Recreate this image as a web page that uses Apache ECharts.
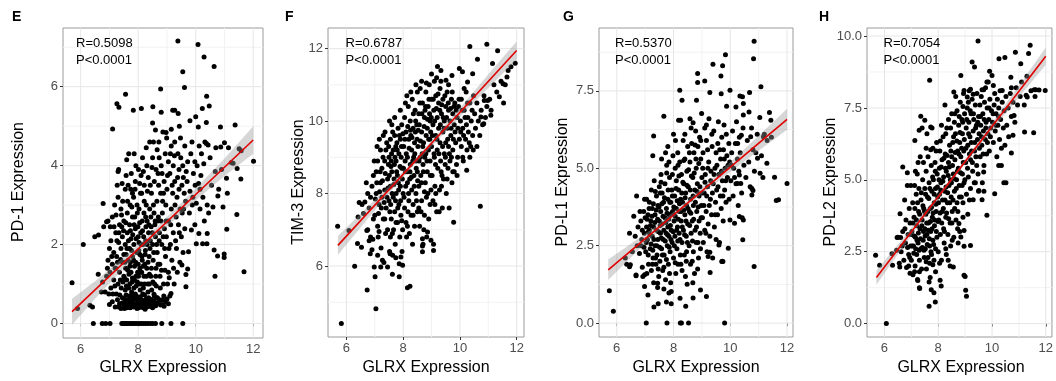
<!DOCTYPE html>
<html><head><meta charset="utf-8">
<script src="https://cdn.jsdelivr.net/npm/echarts@6/dist/echarts.min.js"></script>
<style>html,body{margin:0;padding:0;background:#fff}#c{width:1056px;height:381px}</style>
</head><body><div id="c"></div>
<script>
// ---------- DATA ----------
const xTitle = 'GLRX Expression';
const xTicks = [6, 8, 10, 12];
const xMinor = [7, 9, 11];

const yTicksE = [0, 2, 4, 6];       const yMinorE = [1, 3, 5, 7];
const yTicksF = [6, 8, 10, 12];     const yMinorF = [5, 7, 9, 11];
const yTicksG = [0, 2.5, 5, 7.5];   const yMinorG = [1.25, 3.75, 6.25, 8.75];
const yTicksH = [0, 2.5, 5, 7.5, 10]; const yMinorH = [1.25, 3.75, 6.25, 8.75];

const statsE = ['R=0.5098', 'P<0.0001'];
const statsF = ['R=0.6787', 'P<0.0001'];
const statsG = ['R=0.5370', 'P<0.0001'];
const statsH = ['R=0.7054', 'P<0.0001'];

// regression line end points and confidence band rows [x, lower, upper]
const lineE = [[5.7, 0.30], [12.0, 4.65]];
const bandE = [[5.7,-0.03,0.63],[6.5,0.63,1.07],[7.3,1.25,1.56],[8.2,1.92,2.12],[9.0,2.46,2.70],[10.0,3.12,3.42],[11.0,3.74,4.18],[12.0,4.30,5.00]];
const lineF = [[5.7, 6.57], [12.0, 11.95]];
const bandF = [[5.7,6.31,6.83],[6.5,7.06,7.44],[7.3,7.82,8.06],[8.3,8.72,8.86],[9.3,9.55,9.73],[10.3,10.36,10.64],[11.2,11.07,11.47],[12.0,11.70,12.20]];
const lineG = [[5.7, 1.72], [12.0, 6.58]];
const bandG = [[5.7,1.39,2.05],[6.5,2.12,2.56],[7.3,2.82,3.08],[8.3,3.65,3.81],[9.3,4.39,4.61],[10.3,5.09,5.45],[11.2,5.70,6.22],[12.0,6.24,6.92]];
const lineH = [[5.7, 1.60], [12.0, 9.30]];
const bandH = [[5.7,1.35,1.85],[6.5,2.41,2.75],[7.3,3.45,3.67],[8.3,4.71,4.85],[9.3,5.91,6.09],[10.3,7.07,7.37],[11.2,8.10,8.54],[12.0,9.00,9.60]];

// scatter points [GLRX, gene]
const ptsE = [
[5.70,1.03],[5.89,0.38],[6.09,2.00],[6.32,0.46],[6.41,0.42],[6.49,2.20],[6.62,2.24],[6.61,1.25],[6.78,3.04],[6.72,0.80],[6.90,2.58],[6.80,2.45],[6.76,1.05],[7.11,4.93],
[9.38,7.16],[10.08,7.07],[10.29,6.75],[10.64,6.51],[9.55,6.38],[9.61,5.98],[8.78,5.94],[7.56,5.81],[7.26,5.57],[7.33,5.48],[7.83,5.40],[8.11,5.45],[8.51,5.49],[10.38,5.76],[10.47,5.51],[10.23,5.45],[9.20,5.40],[9.27,5.40],[9.39,5.32],[8.80,5.35],[10.00,5.24],[9.80,5.14],[8.50,5.08],[10.09,4.98],[10.37,5.09],[10.86,4.98],[11.37,5.03],[9.43,5.00],[9.15,4.92],[8.97,4.84],
[11.00,4.58],[10.37,4.56],[10.43,4.52],[10.87,4.47],[11.14,4.45],[11.51,4.43],[11.58,4.38],[12.01,4.11],[11.24,4.08],[11.30,4.06],[11.44,3.93],[11.57,3.66],[11.07,3.68],[11.10,3.30],[10.77,3.23],[11.43,2.76],[11.08,2.39],[10.99,1.76],[10.99,1.67],[10.76,1.71],[10.64,1.86],[10.67,1.20],[11.68,1.31],[10.39,2.02],[10.24,2.02],[10.02,2.02],[10.11,2.28],[10.40,2.28],[9.85,2.37],[9.75,1.82],[9.66,1.24],[9.72,1.38],[9.66,0.93],[9.52,1.48],[9.14,0.76],[9.08,1.16],
[9.65,3.10],[9.70,3.60],[9.72,4.10],[9.78,2.80],[9.80,3.35],[9.83,4.30],[9.88,3.00],[9.92,3.80],[9.97,2.50],[9.98,3.50],[10.05,4.00],[10.10,3.55],[10.15,2.90],[10.20,4.30],[10.25,3.20],[10.30,2.60],[10.32,4.60],[10.40,3.00],[10.45,2.80],[10.55,3.50],[10.60,2.95],[10.68,3.85],[10.80,3.40],[10.90,3.90],[10.95,2.95],[10.50,4.20],[10.15,3.40],[9.90,3.20],[10.70,4.45],
[9.05,1.30],[9.05,2.60],[9.05,4.10],[9.10,3.80],[9.12,2.00],[9.15,4.50],[9.15,2.90],[9.17,1.60],[9.20,3.30],[9.22,2.30],[9.22,4.00],[9.25,1.00],[9.27,3.60],[9.27,4.60],[9.30,2.10],[9.32,2.70],[9.35,3.20],[9.36,1.30],[9.38,4.30],[9.40,2.50],[9.42,3.90],[9.45,1.55],[9.46,2.90],[9.47,4.70],[9.50,2.20],[9.52,3.50],[9.55,4.00],[9.56,1.80],[9.58,2.90],[9.60,3.30],[9.62,4.50],[9.62,2.40],
[8.72,4.60],[8.74,2.30],[8.75,1.50],[8.78,3.30],[8.80,4.00],[8.82,2.00],[8.84,2.80],[8.86,4.85],[8.88,1.00],[8.90,3.60],[8.91,2.40],[8.94,4.30],[8.95,1.70],[8.96,3.00],[8.98,2.20],[8.99,4.70],[9.00,3.40],[8.76,1.20],[8.85,3.10],[8.93,1.35],[8.70,2.70],
[8.44,1.20],[8.45,2.45],[8.46,3.30],[8.47,0.85],[8.50,4.20],[8.50,2.00],[8.52,1.60],[8.55,2.80],[8.56,3.60],[8.57,1.00],[8.60,4.90],[8.60,2.20],[8.62,1.40],[8.65,3.10],[8.66,4.40],[8.66,1.80],[8.68,2.60],[8.69,3.80],[8.42,2.10],[8.48,3.95],[8.58,2.50],[8.63,0.95],
[8.14,1.60],[8.15,2.35],[8.15,4.20],[8.18,0.90],[8.20,2.80],[8.20,1.20],[8.21,3.50],[8.25,1.85],[8.26,2.10],[8.28,3.00],[8.30,1.40],[8.30,4.00],[8.31,2.60],[8.33,1.00],[8.35,3.70],[8.36,2.30],[8.38,1.70],[8.40,2.90],[8.40,4.60],[8.12,3.30],[8.12,1.30],[8.17,2.00],[8.23,1.50],[8.27,2.45],[8.34,0.80],[8.39,1.25],
[7.85,2.00],[7.85,0.90],[7.86,4.30],[7.87,1.45],[7.90,2.40],[7.90,3.60],[7.92,1.20],[7.95,1.80],[7.96,3.00],[7.97,2.80],[8.00,1.50],[8.00,2.20],[8.01,3.90],[8.04,1.00],[8.05,2.55],[8.06,1.75],[8.08,3.30],[8.09,1.30],[8.10,2.00],[8.10,3.75],[7.82,1.10],[7.88,2.70],[7.93,0.95],[7.98,1.30],[8.03,2.05],[8.07,0.85],[7.84,3.20],
[7.55,0.85],[7.55,2.00],[7.55,3.40],[7.56,1.40],[7.60,4.15],[7.60,1.10],[7.62,2.30],[7.62,2.80],[7.65,1.60],[7.65,3.50],[7.67,0.90],[7.70,1.90],[7.70,2.50],[7.71,1.00],[7.72,3.00],[7.75,1.30],[7.75,2.15],[7.76,3.80],[7.77,0.80],[7.80,1.70],[7.80,2.70],[7.80,1.15],[7.80,3.30],[7.58,1.75],[7.68,1.25],[7.73,1.55],[7.52,1.15],
[7.24,0.75],[7.25,1.70],[7.26,2.10],[7.30,3.20],[7.30,3.85],[7.32,3.90],[7.30,1.00],[7.35,2.50],[7.35,1.30],[7.40,2.90],[7.40,1.90],[7.41,0.90],[7.45,1.55],[7.45,2.20],[7.46,3.10],[7.50,1.20],[7.50,2.60],[7.50,1.75],[7.22,2.30],[7.22,1.40],[7.38,1.10],[7.43,2.45],
[6.85,0.80],[6.90,1.20],[6.95,1.60],[6.95,2.60],[7.00,1.90],[7.05,0.90],[7.05,2.10],[7.10,1.50],[7.10,2.70],[7.15,1.10],[7.15,1.80],[7.18,3.00],[7.20,1.40],[7.02,1.30],[6.98,0.75],
[7.00,0.48],[7.10,0.55],[7.20,0.42],[7.28,0.60],[7.35,0.50],[7.40,0.38],[7.45,0.65],[7.50,0.47],[7.55,0.55],[7.60,0.40],[7.65,0.60],[7.70,0.50],[7.75,0.42],[7.78,0.70],[7.82,0.52],[7.88,0.45],[7.92,0.62],[7.96,0.38],[8.00,0.55],[8.04,0.47],[8.08,0.68],[8.12,0.42],[8.16,0.58],[8.20,0.50],[8.24,0.36],[8.28,0.62],[8.33,0.48],[8.38,0.55],[8.42,0.43],[8.47,0.60],[8.52,0.50],[8.58,0.45],[8.63,0.65],[8.70,0.52],[8.78,0.47],[8.85,0.60],[8.95,0.55],[9.05,0.50],[9.10,0.70],[7.58,0.72],[7.90,0.75],[8.22,0.72],[8.55,0.74],
[6.44,0],[6.75,0],[6.87,0],[7.02,0],[7.43,0],[7.48,0],[7.53,0],[7.58,0],[7.63,0],[7.70,0],[7.76,0],[7.82,0],[7.88,0],[7.95,0],[8.03,0],[8.10,0],[8.17,0],[8.25,0],[8.33,0],[8.42,0],[8.50,0],[8.60,0],[8.82,0],[9.14,0],[9.55,0],
[7.28,1.55],[7.32,2.05],[7.36,0.72],[7.39,1.62],[7.42,2.75],[7.47,1.05],[7.49,2.35],[7.53,0.62],[7.54,1.55],[7.57,2.55],[7.59,0.95],[7.61,1.90],[7.63,3.10],[7.64,1.35],[7.66,2.10],[7.69,0.70],[7.71,1.45],[7.73,2.35],[7.74,0.55],[7.77,1.85],[7.78,2.95],[7.79,1.05],[7.81,2.25],[7.83,0.65],[7.84,1.60],[7.86,2.50],[7.87,1.10],[7.89,3.40],[7.91,1.55],[7.93,2.15],[7.94,0.70],[7.97,1.05],[7.99,2.45],[8.01,1.20],[8.02,1.85],[8.03,2.90],[8.05,0.62],[8.06,1.40],[8.09,2.30],[8.11,1.00],[8.13,1.70],[8.14,2.60],[8.16,0.75],[8.17,1.45],[8.19,2.20],[8.21,3.10],[8.22,1.00],[8.24,1.75],[8.26,2.70],[8.27,0.60],[8.29,1.20],[8.31,2.00],[8.32,3.35],[8.34,1.55],[8.36,0.65],[8.37,2.50],[8.39,1.00],[8.41,1.90],[8.43,0.60],[8.44,2.70],[8.46,1.40],[8.49,2.30],[8.51,1.05],[8.53,3.00],[8.54,1.80],[8.56,0.70],[8.59,2.60],[8.61,1.20],[8.64,2.00],[8.67,0.65],[8.69,1.50],[8.71,3.50],[8.73,2.10],[8.77,0.90],[8.79,2.60],[8.81,1.35],[8.83,3.80],[8.87,2.20],[8.89,0.70],[8.92,1.90],[8.97,2.60],[9.02,1.00],[9.07,1.90],[9.13,2.50],[9.18,3.50],[9.23,1.40],[9.28,3.00],[9.33,1.90],[9.37,3.70],[9.43,2.30],[9.48,4.20],[9.53,2.80],[7.12,0.75],[7.08,1.70],[7.16,2.45],[7.19,0.95],[7.03,2.45],[6.93,1.40],[7.23,2.75],[7.27,3.50],[7.33,2.30],[7.44,3.55],[7.58,3.75],[7.67,4.30],[7.74,3.40],[7.92,4.00],[8.05,3.55],[8.18,3.85],[8.28,4.45],[8.42,3.50],[8.53,4.60],[8.62,3.90],[8.73,4.20],[8.88,3.30],[9.02,3.75],[9.12,4.30],[9.26,4.25],[9.42,3.40],[9.57,3.70],[9.67,3.85],[9.87,4.60],[10.02,3.05],[10.18,3.75],[10.28,4.05],[10.12,4.50],[9.97,4.10],
[7.32,0.42],[7.44,0.52],[7.52,0.38],[7.57,0.48],[7.64,0.44],[7.68,0.58],[7.72,0.40],[7.80,0.60],[7.85,0.42],[7.90,0.50],[7.98,0.46],[8.02,0.40],[8.06,0.52],[8.10,0.58],[8.14,0.48],[8.18,0.40],[8.26,0.48],[8.30,0.42],[8.36,0.50],[8.40,0.62],[8.45,0.48],[8.50,0.40],[8.56,0.56],[8.61,0.45],[8.66,0.52],[8.74,0.60],[8.82,0.48],[8.90,0.44],[9.00,0.62]
];

const ptsF = [
[5.69,7.10],[5.82,4.41],[7.04,4.82],[6.73,5.34],[6.29,5.99],[8.15,5.40],[8.24,5.44],[7.86,5.70],[6.09,6.98],[6.41,7.35],[6.39,6.62],[6.53,6.52],[6.65,7.77],[6.72,6.98],[6.98,5.97],[7.01,5.70],[6.84,6.34],[6.93,6.74],[7.21,5.97],[7.27,6.16],[7.45,5.97],[7.62,5.77],[7.54,6.34],[7.74,6.23],[7.86,6.06],[7.92,6.25],[7.98,6.02],[9.78,7.21],[10.72,7.65],[10.24,8.64],[8.98,6.71],[9.07,6.43],[8.68,6.39],[8.68,6.55],[8.68,6.75],[8.86,6.94],
[10.35,12.06],[10.95,12.12],[11.33,11.94],[11.95,11.60],[10.62,11.71],[11.15,11.59],[11.66,11.22],[11.52,11.03],[11.54,10.50],[11.39,10.67],[11.09,10.16],[10.86,10.57],[10.98,10.57],[10.74,10.11],[10.84,9.93],[9.21,11.51],[9.33,11.40],[9.51,11.13],[9.72,11.26],[9.98,11.45],[10.09,11.36],[10.27,11.08],[10.45,11.31],[10.15,10.90],
[6.45,7.75],[6.55,7.70],[6.60,7.45],[6.70,8.30],[6.75,8.00],[6.80,7.60],[6.85,7.90],[6.90,8.20],[6.95,8.50],[6.95,7.30],[6.75,7.00],[6.85,6.80],[6.90,6.45],[6.80,6.70],
[7.00,7.40],[7.05,8.60],[7.05,8.00],[7.10,7.10],[7.10,8.90],[7.12,6.80],[7.15,7.70],[7.20,8.30],[7.20,9.20],[7.22,6.50],[7.25,7.90],[7.25,8.70],[7.30,9.60],[7.30,7.30],[7.32,6.10],[7.35,8.10],[7.35,8.90],[7.38,6.90],[7.40,7.60],[7.42,9.40],[7.45,8.40],[7.45,7.00],[7.48,8.80],[7.50,7.80],[7.50,9.00],[7.10,6.30],
[7.52,6.40],[7.55,8.20],[7.55,9.50],[7.58,7.30],[7.60,8.60],[7.60,9.90],[7.62,6.90],[7.65,7.90],[7.65,9.20],[7.68,8.40],[7.70,7.50],[7.70,9.60],[7.72,6.60],[7.75,8.00],[7.75,8.90],[7.78,9.40],[7.80,7.20],[7.80,8.50],[7.82,9.80],[7.85,7.70],[7.85,9.10],[7.88,6.80],[7.90,8.20],[7.90,9.50],[7.92,7.40],[7.95,8.70],[7.95,9.90],[7.98,7.00],[7.58,8.90],[7.66,7.00],[7.74,9.30],[7.84,8.10],[7.93,9.00],[7.56,7.70],[7.96,6.40],[7.63,6.30],
[8.00,8.00],[8.02,9.30],[8.05,7.60],[8.05,10.10],[8.08,8.60],[8.10,7.20],[8.10,9.70],[8.12,6.80],[8.15,8.30],[8.15,9.00],[8.18,10.40],[8.20,7.80],[8.20,9.50],[8.22,6.90],[8.25,8.80],[8.25,10.00],[8.28,7.40],[8.30,9.20],[8.30,8.10],[8.32,10.60],[8.35,7.70],[8.35,9.80],[8.38,8.50],[8.40,9.40],[8.40,7.10],[8.42,10.30],[8.45,8.00],[8.45,8.90],[8.48,9.90],[8.50,7.50],[8.50,10.80],[8.50,8.60],[8.07,8.90],[8.17,7.50],[8.27,9.60],[8.37,9.00],[8.47,7.80],[8.13,10.70],[8.23,8.40],[8.33,6.60],[8.43,9.70],
[8.52,9.30],[8.55,8.20],[8.55,10.20],[8.58,7.10],[8.60,9.00],[8.60,10.90],[8.62,8.50],[8.65,9.70],[8.65,7.80],[8.68,10.50],[8.70,8.80],[8.70,6.60],[8.72,9.40],[8.75,10.10],[8.75,7.40],[8.78,8.30],[8.80,10.80],[8.80,9.10],[8.82,7.90],[8.85,9.80],[8.85,8.60],[8.88,10.40],[8.90,7.30],[8.90,9.50],[8.92,11.00],[8.95,8.90],[8.95,10.00],[8.98,8.10],[9.00,9.30],[9.00,10.60],[8.57,9.90],[8.67,9.10],[8.77,10.30],[8.87,8.00],[8.97,9.70],[8.63,7.50],[8.73,7.00],[8.83,6.80],[8.93,10.20],
[9.02,8.50],[9.05,9.90],[9.05,7.80],[9.08,10.30],[9.10,9.00],[9.10,11.10],[9.12,8.20],[9.15,9.60],[9.15,10.70],[9.18,7.50],[9.20,9.20],[9.20,10.10],[9.22,8.70],[9.25,10.50],[9.25,9.80],[9.28,8.10],[9.30,9.40],[9.30,10.90],[9.32,8.90],[9.35,10.20],[9.38,7.60],[9.40,9.70],[9.40,10.60],[9.42,8.40],[9.45,9.10],[9.45,10.00],[9.48,8.80],[9.50,10.40],[9.50,9.40],[9.12,7.70],[9.27,7.50],[9.37,8.50],[9.33,11.10],[9.07,6.60],
[9.52,8.00],[9.55,9.80],[9.55,10.80],[9.58,8.70],[9.60,9.30],[9.60,10.30],[9.62,7.60],[9.65,10.00],[9.65,8.90],[9.68,9.60],[9.70,10.60],[9.72,8.30],[9.75,9.20],[9.75,10.20],[9.80,9.90],[9.80,8.60],[9.82,10.50],[9.85,9.40],[9.88,8.80],[9.90,10.10],[9.92,9.00],[9.95,10.40],[9.98,9.50],[9.60,11.00],[9.70,9.00],[9.90,8.50],
[10.02,10.00],[10.05,9.30],[10.05,10.60],[10.10,9.80],[10.12,8.90],[10.15,10.30],[10.20,9.50],[10.22,10.80],[10.25,9.20],[10.28,10.10],[10.30,9.70],[10.35,10.50],[10.38,9.30],[10.40,10.00],[10.45,9.60],[10.48,10.70],[10.10,9.00],[10.35,9.00],
[10.52,10.20],[10.55,9.80],[10.60,10.50],[10.65,10.00],[10.70,9.60],[10.75,10.30],[10.80,9.90],[10.85,10.70],[10.90,10.10],[10.95,10.40],[10.60,9.30],
[11.05,10.60],[11.10,10.30],[11.20,11.00],[11.30,10.80],[11.45,11.10],[11.60,11.00],[11.70,11.40],[11.80,11.50],
[7.02,7.85],[7.07,8.30],[7.13,7.45],[7.17,8.05],[7.19,8.60],[7.23,7.60],[7.27,8.35],[7.29,9.00],[7.33,7.75],[7.37,8.55],[7.39,9.20],[7.43,7.90],[7.47,8.15],[7.49,9.30],[7.51,8.50],[7.53,7.50],[7.57,8.75],[7.59,9.10],[7.61,8.00],[7.63,9.70],[7.67,8.25],[7.69,8.80],[7.71,9.00],[7.73,7.80],[7.77,8.60],[7.79,9.20],[7.81,7.60],[7.83,8.30],[7.87,9.60],[7.89,8.75],[7.91,7.80],[7.94,9.30],[7.97,8.40],[7.99,9.65],[8.01,8.70],[8.03,7.90],[8.06,9.50],[8.09,8.20],[8.11,9.10],[8.14,8.60],[8.16,9.85],[8.19,8.00],[8.21,9.25],[8.24,8.60],[8.26,9.75],[8.29,8.45],[8.31,9.55],[8.34,8.90],[8.36,10.20],[8.39,8.20],[8.41,9.10],[8.44,10.00],[8.46,8.70],[8.49,9.50],[8.51,8.35],[8.53,9.75],[8.56,8.90],[8.59,10.50],[8.61,9.45],[8.64,8.30],[8.66,10.20],[8.69,9.30],[8.71,8.60],[8.74,9.85],[8.76,9.00],[8.79,10.40],[8.81,9.60],[8.84,8.90],[8.86,10.05],[8.89,9.20],[8.91,10.60],[8.94,9.50],[8.96,8.50],[8.99,10.10],[9.03,9.60],[9.06,10.60],[9.09,9.10],[9.11,10.00],[9.14,8.80],[9.17,10.35],[9.19,9.50],[9.23,10.75],[9.26,9.10],[9.29,10.30],[9.31,9.90],[9.34,8.60],[9.36,10.45],[9.39,9.30],[9.41,10.10],[9.44,9.80],[9.47,10.70],[9.49,9.00],[9.53,10.10],[9.57,9.50],[9.59,10.50],[9.63,9.10],[9.67,10.35],[9.69,9.80],[9.73,10.80],[9.77,9.50],[9.79,10.40],[9.83,9.70],[9.87,10.30],[9.93,9.80],[9.97,10.60],[10.03,9.70],[10.08,10.30],[10.13,9.60],[10.18,10.10],[10.23,9.90],[10.27,10.50],[10.33,9.40],[10.43,10.30],[10.47,9.20],[7.15,6.95],[7.35,7.30],[7.55,6.80],[7.75,7.20],[7.95,7.25],[8.15,7.10],[8.35,7.40],[8.55,7.60],[8.75,8.05],[8.95,7.70],[9.15,8.00],[9.35,8.20],[9.55,8.40],[9.75,8.60],[6.98,8.90],[7.08,9.30],[7.16,9.50],[7.36,9.70],[7.52,10.00],[7.70,10.10],[7.90,10.30],[8.08,10.50],[8.27,10.80],[8.45,11.00],[8.65,11.10],[8.82,11.05],[9.00,11.30],[9.18,11.20]
];

const ptsG = [
[5.74,1.04],[5.88,0.38],[7.04,0],[7.77,0],[8.24,0],[8.28,0],[8.53,0],[9.80,0],[7.31,0.52],[7.46,0.62],[7.10,0.91],[7.75,0.68],[7.92,0.62],[7.84,0.97],[7.92,1.02],[8.43,0.54],[8.69,0.81],[9.16,0.86],[8.95,1.07],[6.98,1.18],[6.68,1.53],[6.48,1.88],[6.45,1.82],[6.98,1.56],[7.44,1.29],
[10.84,9.10],[10.82,8.54],[9.83,8.67],[9.39,8.36],[9.73,8.31],[8.85,8.06],[8.85,7.77],[9.10,7.82],[9.67,7.98],[8.22,7.52],[8.30,7.20],[8.81,7.20],[9.28,7.45],[9.68,7.41],[9.99,7.52],[10.34,7.33],[10.43,7.31],[10.68,7.45],[11.08,7.63],[10.46,7.09],[10.20,6.98],[9.87,7.00],[10.66,6.82],[10.46,6.72],[11.04,6.64],[11.38,6.80],[11.43,6.55],[11.17,6.02],[10.72,6.02],[10.39,6.07],[7.66,6.68],[8.18,6.55],[7.30,6.04],[8.99,6.77],[8.69,6.47],
[12.00,4.51],[11.56,4.71],[11.70,3.98],[11.62,3.96],[11.29,5.16],[11.05,4.84],[10.96,5.32],[10.84,1.83],[10.44,2.69],[10.32,3.44],[10.46,3.33],[10.15,3.22],[9.99,3.33],[10.25,4.51],[10.37,4.51],[10.76,4.35],[10.76,4.14],[10.80,4.28],[10.32,4.78],[9.93,2.42],[9.60,2.52],[9.70,1.99],[9.74,1.99],[9.29,1.63],[9.22,2.15],[9.28,2.29],
[6.30,2.10],[6.35,1.90],[6.45,2.90],[6.55,2.30],[6.60,3.45],[6.65,2.80],[6.70,4.10],[6.72,2.50],[6.75,3.10],[6.80,2.25],[6.85,3.30],[6.88,2.70],[6.90,1.80],[6.95,3.60],[6.97,2.90],[6.98,4.00],[6.92,1.50],[6.82,3.60],[6.68,1.55],
[7.02,2.30],[7.05,3.10],[7.05,4.00],[7.08,2.70],[7.10,3.50],[7.12,1.90],[7.15,3.00],[7.15,3.90],[7.18,2.40],[7.20,3.30],[7.22,4.30],[7.22,1.70],[7.25,2.80],[7.25,3.70],[7.28,2.10],[7.30,3.10],[7.32,4.60],[7.35,2.50],[7.35,3.50],[7.38,1.90],[7.40,3.00],[7.40,4.10],[7.42,2.20],[7.45,3.80],[7.45,2.70],[7.48,1.50],[7.50,3.30],[7.50,4.40],[7.27,5.40],[7.12,2.95],[7.30,1.30],[7.44,1.15],
[7.52,2.00],[7.54,2.90],[7.55,3.60],[7.56,4.80],[7.58,2.40],[7.60,3.20],[7.60,4.20],[7.62,1.70],[7.64,2.70],[7.65,3.90],[7.67,2.20],[7.70,3.40],[7.70,4.50],[7.72,1.40],[7.74,2.90],[7.75,3.70],[7.76,5.10],[7.78,2.50],[7.80,3.10],[7.80,4.00],[7.82,1.90],[7.84,2.80],[7.85,3.50],[7.86,4.70],[7.88,2.30],[7.90,3.90],[7.90,1.30],[7.92,3.00],[7.94,4.30],[7.95,2.60],[7.97,3.60],[7.98,5.40],[7.58,5.30],[7.66,1.10],[7.72,5.50],[7.84,5.20],[7.53,4.20],
[8.00,2.10],[8.02,3.30],[8.04,4.10],[8.05,2.80],[8.06,5.00],[8.08,1.60],[8.10,3.70],[8.10,4.60],[8.12,2.40],[8.14,3.10],[8.15,5.50],[8.16,1.90],[8.18,4.30],[8.20,2.90],[8.20,3.60],[8.22,5.20],[8.24,2.20],[8.25,4.00],[8.27,3.30],[8.28,4.80],[8.30,1.70],[8.30,2.60],[8.32,3.90],[8.34,5.90],[8.35,3.00],[8.36,4.50],[8.38,2.20],[8.40,3.50],[8.40,5.30],[8.42,1.50],[8.43,4.20],[8.45,2.80],[8.46,3.80],[8.47,4.90],[8.48,1.25],[8.50,3.20],[8.50,5.70],[8.25,6.55],[8.07,5.90],[8.23,0.80],[8.45,2.00],
[8.52,4.40],[8.55,2.50],[8.56,3.60],[8.58,5.20],[8.60,1.90],[8.60,4.00],[8.62,2.90],[8.64,5.80],[8.66,3.30],[8.68,4.70],[8.70,2.30],[8.70,3.80],[8.72,5.50],[8.74,1.60],[8.75,4.30],[8.76,3.00],[8.78,6.20],[8.80,2.60],[8.80,5.00],[8.82,3.60],[8.84,4.50],[8.86,5.70],[8.88,2.10],[8.90,3.30],[8.90,4.10],[8.92,6.00],[8.94,2.90],[8.96,5.30],[8.98,3.80],[9.00,4.70],[8.58,6.60],[8.85,1.75],[8.68,1.30],[8.95,2.40],
[9.02,3.40],[9.04,5.50],[9.05,2.60],[9.08,4.20],[9.10,3.00],[9.10,6.30],[9.12,4.80],[9.15,3.60],[9.16,5.90],[9.18,2.30],[9.20,4.40],[9.22,3.20],[9.24,5.20],[9.25,6.60],[9.28,2.80],[9.30,4.00],[9.32,4.90],[9.34,3.50],[9.36,5.70],[9.38,2.10],[9.40,4.50],[9.42,6.20],[9.44,3.10],[9.46,5.00],[9.48,3.90],[9.50,2.70],[9.50,5.50],[9.35,6.10],[9.20,5.60],
[9.52,4.30],[9.55,3.50],[9.56,5.80],[9.58,6.50],[9.60,4.80],[9.62,2.60],[9.65,4.10],[9.66,5.30],[9.68,3.70],[9.70,6.00],[9.72,4.60],[9.75,3.30],[9.76,5.60],[9.78,6.40],[9.80,4.30],[9.82,5.00],[9.85,3.90],[9.86,6.10],[9.88,5.40],[9.90,4.70],[9.95,5.80],[9.96,4.00],[9.98,5.20],[9.72,2.00],
[10.02,4.60],[10.05,5.50],[10.08,6.20],[10.10,4.10],[10.12,5.00],[10.18,5.80],[10.20,4.50],[10.22,6.50],[10.25,5.30],[10.28,3.80],[10.30,4.90],[10.32,6.00],[10.35,5.50],[10.40,4.20],[10.42,3.40],[10.45,6.30],[10.48,5.10],
[10.55,4.70],[10.60,5.90],[10.65,5.20],[10.70,4.40],[10.75,6.30],[10.80,5.60],[10.85,4.90],[10.90,5.50],[10.95,6.10],
[11.10,5.40],[11.20,6.10],[11.30,5.90],[11.45,6.00],[11.15,4.70],
[7.04,2.60],[7.07,3.35],[7.11,2.20],[7.14,3.70],[7.17,2.85],[7.19,3.15],[7.21,2.55],[7.24,3.45],[7.27,2.35],[7.29,3.85],[7.31,2.70],[7.34,3.25],[7.37,2.10],[7.39,3.65],[7.41,2.50],[7.44,3.35],[7.47,2.95],[7.49,3.75],[7.51,2.45],[7.53,3.15],[7.57,2.75],[7.59,3.85],[7.61,2.20],[7.63,3.45],[7.66,3.00],[7.68,4.05],[7.71,2.65],[7.73,3.25],[7.75,2.05],[7.77,3.55],[7.79,2.85],[7.81,4.30],[7.83,3.35],[7.85,2.45],[7.87,3.90],[7.89,3.15],[7.91,2.70],[7.93,3.55],[7.96,4.10],[7.99,2.95],[8.01,3.75],[8.03,2.50],[8.06,3.45],[8.09,4.35],[8.11,3.00],[8.13,3.95],[8.15,2.65],[8.17,3.35],[8.19,4.75],[8.21,3.85],[8.23,2.70],[8.26,3.60],[8.29,4.20],[8.31,3.10],[8.33,4.55],[8.36,3.65],[8.39,2.85],[8.41,4.05],[8.44,3.30],[8.47,4.45],[8.49,2.60],[8.51,3.70],[8.53,4.95],[8.57,3.15],[8.59,4.30],[8.61,3.55],[8.63,4.75],[8.67,2.65],[8.69,4.10],[8.71,3.35],[8.73,4.85],[8.77,3.90],[8.79,5.30],[8.81,3.10],[8.83,4.25],[8.87,3.75],[8.89,5.15],[8.93,4.40],[8.97,3.40],[9.01,4.20],[9.03,5.00],[9.07,3.80],[9.11,4.55],[9.14,2.90],[9.17,4.10],[9.21,5.00],[9.26,3.80],[9.31,4.60],[9.37,4.20],[9.43,4.80],[9.47,3.50],[9.53,5.10],[9.57,4.40],[9.63,5.60],[9.69,4.90],[9.74,4.10],[9.79,5.30],[9.84,4.60],[9.92,5.10],[10.04,5.10],[10.15,4.70],[10.26,5.80],[6.96,2.45],[6.90,3.00],[6.86,2.50],[7.00,3.40],[7.06,1.60],[7.26,1.90],[7.46,1.75],[7.66,1.80],[7.86,1.60],[8.06,1.95],[8.26,1.90],[8.46,2.30],[8.66,2.00],[8.86,2.60],[7.36,4.25],[7.56,4.55],[7.76,4.85],[7.96,4.80],[8.16,5.10],[8.36,5.25],[8.56,5.50],[8.76,5.75],[8.96,5.90],[9.16,6.40],[7.80,5.70],[8.00,6.10],[8.40,6.10],[8.62,6.30]
];

const ptsH = [
[5.67,2.38],[5.82,2.03],[6.07,0],[6.30,2.03],[6.57,1.97],[6.28,2.43],[6.58,3.82],[6.47,2.99],[6.60,2.99],[6.68,5.45],[6.85,5.25],[7.13,6.37],[7.35,7.21],[7.68,8.46],[7.72,6.84],[7.29,6.72],[7.50,7.07],[7.66,0.60],[7.89,0.75],[7.84,1.07],[7.90,1.80],[8.11,1.31],[8.07,1.51],[7.74,1.18],[7.31,1.22],[7.23,1.53],[9.02,1.16],[9.05,0.95],[8.96,1.68],[9.00,1.64],[8.56,1.97],[8.37,2.20],[9.81,3.77],[9.20,2.72],[8.96,2.69],[8.84,3.01],[8.96,3.24],[8.77,3.48],[9.30,4.31],[9.63,4.31],[9.51,4.63],[9.69,5.27],[10.10,4.52],[10.44,4.90],[10.25,5.50],[10.72,5.93],[10.78,6.55],[11.55,6.64],[11.21,6.66],[10.82,7.24],
[9.48,9.83],[9.26,9.10],[9.35,8.92],[8.84,8.63],[10.26,9.21],[10.48,9.25],[10.87,9.44],[11.07,9.04],[11.42,9.68],[11.36,9.39],[11.98,8.11],[11.63,8.13],[11.57,8.13],[11.27,7.94],[11.31,7.88],[9.91,8.78],[10.00,8.63],[10.70,8.57],[10.72,8.20],[10.38,8.11],[10.05,8.28],[9.63,8.13],[9.69,8.13],[9.81,8.40],[8.96,8.11],[9.08,7.88],[9.20,8.15],[9.30,7.98],
[6.45,2.55],[6.50,3.00],[6.55,2.10],[6.62,2.50],[6.68,3.20],[6.72,2.20],[6.75,4.30],[6.78,2.80],[6.80,3.60],[6.82,1.95],[6.85,4.80],[6.88,3.10],[6.90,2.40],[6.92,4.00],[6.95,1.75],[6.95,3.50],[6.98,4.80],[6.90,2.00],[6.97,2.70],
[7.00,2.20],[7.02,3.20],[7.05,4.20],[7.06,1.70],[7.08,2.70],[7.10,3.70],[7.12,4.80],[7.14,2.00],[7.15,3.00],[7.18,4.50],[7.20,2.40],[7.20,3.40],[7.22,5.20],[7.24,1.50],[7.25,2.80],[7.27,3.90],[7.28,4.70],[7.30,2.20],[7.32,3.30],[7.33,5.80],[7.35,2.60],[7.36,4.30],[7.38,1.90],[7.40,3.60],[7.42,5.00],[7.44,2.90],[7.46,4.00],[7.48,2.30],[7.50,3.30],[7.50,4.70],[7.30,1.25],[7.12,1.80],[7.40,6.80],
[7.52,2.60],[7.54,3.80],[7.55,5.30],[7.56,1.90],[7.58,3.10],[7.60,4.40],[7.62,2.30],[7.62,5.80],[7.64,3.50],[7.66,4.90],[7.68,2.70],[7.70,4.00],[7.70,1.60],[7.72,3.20],[7.74,5.50],[7.75,2.40],[7.76,4.60],[7.78,3.70],[7.80,6.10],[7.80,2.90],[7.82,5.00],[7.84,2.20],[7.85,4.20],[7.86,3.40],[7.88,5.60],[7.90,2.60],[7.90,4.70],[7.92,3.90],[7.94,6.30],[7.95,3.00],[7.96,5.20],[7.98,4.40],[7.58,6.60],[7.66,1.45],[7.77,6.80],[7.68,2.10],
[8.00,2.50],[8.02,3.60],[8.04,5.40],[8.05,4.50],[8.06,6.00],[8.08,3.10],[8.10,4.90],[8.12,2.20],[8.14,5.70],[8.15,3.90],[8.16,4.30],[8.18,6.50],[8.20,3.30],[8.20,5.10],[8.22,2.80],[8.24,4.60],[8.26,5.90],[8.28,3.70],[8.30,5.30],[8.30,2.40],[8.32,6.80],[8.34,4.20],[8.36,3.10],[8.38,5.60],[8.40,4.80],[8.42,6.20],[8.44,3.50],[8.45,5.00],[8.46,2.70],[8.48,4.40],[8.50,5.80],[8.50,7.30],[8.25,7.60],[8.38,7.10],[8.12,6.90],[8.44,2.00],
[8.52,3.90],[8.54,6.30],[8.56,5.20],[8.58,3.00],[8.60,4.60],[8.60,7.00],[8.62,5.70],[8.64,6.60],[8.66,3.60],[8.68,5.00],[8.70,7.40],[8.70,4.20],[8.72,6.00],[8.74,2.80],[8.75,5.40],[8.76,6.90],[8.78,4.80],[8.80,3.20],[8.80,6.30],[8.82,7.70],[8.84,5.80],[8.86,4.40],[8.88,7.10],[8.90,5.20],[8.90,6.60],[8.92,3.70],[8.94,8.00],[8.95,6.00],[8.96,4.90],[8.98,7.30],[8.65,7.90],[8.58,8.05],
[9.02,5.60],[9.04,6.80],[9.05,4.50],[9.08,7.50],[9.10,6.20],[9.10,3.80],[9.12,5.10],[9.14,7.00],[9.15,8.10],[9.18,6.50],[9.20,5.70],[9.20,4.70],[9.22,7.30],[9.24,6.00],[9.26,7.80],[9.28,5.30],[9.30,6.70],[9.32,7.10],[9.34,4.90],[9.36,6.30],[9.38,7.60],[9.40,5.80],[9.42,6.90],[9.44,8.00],[9.46,6.40],[9.48,5.20],[9.50,7.20],[9.50,4.60],
[9.52,6.60],[9.55,7.60],[9.56,5.80],[9.58,6.90],[9.60,7.90],[9.62,6.20],[9.64,4.90],[9.66,7.30],[9.68,6.70],[9.70,5.50],[9.72,7.70],[9.75,6.40],[9.76,8.20],[9.78,7.00],[9.80,5.90],[9.82,7.50],[9.85,6.60],[9.86,8.40],[9.88,7.10],[9.90,6.00],[9.92,7.80],[9.95,6.80],[9.98,7.40],[9.70,4.60],
[10.02,7.00],[10.05,6.30],[10.08,7.60],[10.10,8.00],[10.12,6.70],[10.15,7.30],[10.18,5.80],[10.20,7.80],[10.22,6.90],[10.25,7.50],[10.28,6.40],[10.30,8.10],[10.32,7.10],[10.35,6.10],[10.38,7.70],[10.42,6.80],[10.45,7.40],[10.48,6.20],[10.35,5.50],
[10.52,7.90],[10.55,6.90],[10.60,7.50],[10.62,6.50],[10.68,8.00],[10.72,7.20],[10.78,7.70],[10.85,7.00],[10.90,8.20],[10.95,7.60],[10.52,4.90],
[11.05,7.90],[11.10,8.40],[11.20,7.60],[11.30,8.60],[11.45,8.10],[11.60,7.90],[11.75,8.12],
[7.03,2.70],[7.06,3.50],[7.09,2.45],[7.11,3.05],[7.13,4.00],[7.16,2.60],[7.19,3.60],[7.21,2.90],[7.23,4.20],[7.26,3.15],[7.29,2.55],[7.31,3.80],[7.34,2.95],[7.37,4.55],[7.39,3.40],[7.41,2.65],[7.43,4.10],[7.45,3.20],[7.47,2.55],[7.49,3.90],[7.51,3.05],[7.53,4.50],[7.57,3.50],[7.59,2.75],[7.61,3.90],[7.63,3.25],[7.65,4.35],[7.67,2.95],[7.69,4.70],[7.71,3.55],[7.73,2.50],[7.75,4.05],[7.77,3.30],[7.79,5.10],[7.81,3.85],[7.83,2.75],[7.85,4.50],[7.87,3.60],[7.89,5.30],[7.91,4.15],[7.93,3.20],[7.97,4.75],[7.99,3.55],[8.01,4.20],[8.03,5.00],[8.07,3.85],[8.09,4.65],[8.11,5.45],[8.13,3.50],[8.17,4.95],[8.19,4.00],[8.21,5.75],[8.23,3.20],[8.25,4.30],[8.27,5.40],[8.29,4.75],[8.31,3.85],[8.33,5.85],[8.35,4.55],[8.37,5.15],[8.39,3.65],[8.41,5.45],[8.43,4.20],[8.47,6.00],[8.49,4.90],[8.51,3.50],[8.53,5.50],[8.55,4.30],[8.57,6.50],[8.59,5.05],[8.61,4.00],[8.63,5.95],[8.67,4.70],[8.69,6.35],[8.71,5.30],[8.73,3.90],[8.77,5.90],[8.79,4.40],[8.81,6.65],[8.83,5.25],[8.87,6.10],[8.89,4.80],[8.91,7.00],[8.93,5.60],[8.97,6.40],[8.99,5.00],[9.03,6.10],[9.06,7.10],[9.09,5.40],[9.13,6.60],[9.16,5.90],[9.19,7.40],[9.23,6.30],[9.27,5.60],[9.31,7.30],[9.35,6.00],[9.39,6.80],[9.43,5.50],[9.47,7.00],[9.53,6.10],[9.57,7.20],[9.61,6.50],[9.67,5.90],[9.71,7.10],[9.77,6.80],[9.83,6.30],[9.89,7.50],[9.94,6.50],[10.04,7.30],[10.14,6.90],[10.24,7.20],[6.94,2.30],[6.99,3.10],[6.86,2.65],[6.76,3.30],[6.66,2.70],[7.15,5.30],[7.25,5.60],[7.45,5.60],[7.55,6.10],[7.72,6.05],[7.92,6.00],[8.08,6.35],[8.28,6.60],[8.46,6.80],[8.62,7.30],[8.78,7.20],[8.92,7.55],[9.12,7.70],[7.30,1.80],[7.55,2.15],[7.80,2.05],[8.05,2.10],[8.28,2.60],[8.52,2.90],[8.72,3.30],[8.92,4.20],[9.16,4.30],[9.38,4.90]
];

// ---------- LAYOUT ----------
const FONT = '"Liberation Sans", Arial, Helvetica, sans-serif';
const panels = [
  {letter:'E', pts:ptsE, line:lineE, band:bandE, yTitle:'PD-1 Expression', yTicks:yTicksE, yMinor:yMinorE, stats:statsE, dec:0,
   grid:{left:63, top:28, width:200, height:310}, xr:[5.385,12.34], yr:[-0.367,7.487], letterX:12, yTitleX:18.5, statX:76},
  {letter:'F', pts:ptsF, line:lineF, band:bandF, yTitle:'TIM-3 Expression', yTicks:yTicksF, yMinor:yMinorF, stats:statsF, dec:0,
   grid:{left:328, top:28, width:196, height:309}, xr:[5.35,12.26], yr:[4.04,12.57], letterX:285, yTitleX:299, statX:345.5},
  {letter:'G', pts:ptsG, line:lineG, band:bandG, yTitle:'PD-L1 Expression', yTicks:yTicksG, yMinor:yMinorG, stats:statsG, dec:1,
   grid:{left:599, top:28, width:194, height:309}, xr:[5.375,12.21], yr:[-0.45,9.53], letterX:563, yTitleX:563, statX:615},
  {letter:'H', pts:ptsH, line:lineH, band:bandH, yTitle:'PD-L2 Expression', yTicks:yTicksH, yMinor:yMinorH, stats:statsH, dec:1,
   grid:{left:867, top:28, width:188, height:309}, xr:[5.35,12.23], yr:[-0.466,10.28], letterX:819, yTitleX:830.5, statX:883.5}
];

const grids = [], xAxes = [], yAxes = [], series = [], graphics = [];
panels.forEach((p, i) => {
  grids.push(Object.assign({show:true, borderColor:'#9a9a9a', borderWidth:1, backgroundColor:'#fff', containLabel:false}, p.grid));
  xAxes.push({type:'value', gridIndex:i, min:p.xr[0], max:p.xr[1],
    axisLine:{show:false}, splitLine:{show:false},
    axisTick:{show:true, customValues:xTicks, length:3, lineStyle:{color:'#333'}},
    axisLabel:{customValues:xTicks, margin:5, fontSize:13, color:'#4d4d4d', fontFamily:FONT}});
  yAxes.push({type:'value', gridIndex:i, min:p.yr[0], max:p.yr[1],
    axisLine:{show:false}, splitLine:{show:false},
    axisTick:{show:true, customValues:p.yTicks, length:3, lineStyle:{color:'#333'}},
    axisLabel:{customValues:p.yTicks, margin:5, fontSize:13, color:'#4d4d4d', fontFamily:FONT,
      formatter: v => Number(v).toFixed(p.dec)}});

  // grid lines through the axes' scales
  series.push({type:'custom', xAxisIndex:i, yAxisIndex:i, z:1, silent:true, animation:false,
    data:[[p.xr[0], p.yr[0]]],
    renderItem:(params, api) => {
      const ch = [];
      const add = (a, b, minor) => ch.push({type:'line', shape:{x1:a[0], y1:a[1], x2:b[0], y2:b[1]},
        style:{stroke: minor ? '#f2f2f2' : '#e6e6e6', lineWidth:1}});
      xMinor.forEach(v => add(api.coord([v, p.yr[0]]), api.coord([v, p.yr[1]]), true));
      p.yMinor.forEach(v => add(api.coord([p.xr[0], v]), api.coord([p.xr[1], v]), true));
      xTicks.forEach(v => add(api.coord([v, p.yr[0]]), api.coord([v, p.yr[1]]), false));
      p.yTicks.forEach(v => add(api.coord([p.xr[0], v]), api.coord([p.xr[1], v]), false));
      return {type:'group', children:ch};
    }});
  series.push({type:'scatter', xAxisIndex:i, yAxisIndex:i, z:3, silent:true, animation:false,
    data:p.pts, symbolSize:5, itemStyle:{color:'#000', opacity:1}});
  series.push({type:'custom', xAxisIndex:i, yAxisIndex:i, z:4, silent:true, animation:false,
    data:[[p.band[0][0], p.band[0][1]]],
    renderItem:(params, api) => {
      const up = p.band.map(r => api.coord([r[0], r[2]]));
      const lo = p.band.slice().reverse().map(r => api.coord([r[0], r[1]]));
      return {type:'polygon', shape:{points: up.concat(lo)}, style:{fill:'rgba(153,153,153,0.4)'}};
    }});
  series.push({type:'line', xAxisIndex:i, yAxisIndex:i, z:5, silent:true, animation:false,
    data:p.line, showSymbol:false, symbol:'none', lineStyle:{color:'#e00000', width:1.6}});

  graphics.push({type:'text', z:100, left:p.letterX, top:10, style:{text:p.letter, font:'bold 14px ' + FONT, fill:'#000'}});
  graphics.push({type:'text', z:100, x:p.statX, y:43, style:{text:p.stats[0], font:'13px ' + FONT, fill:'#000', textVerticalAlign:'middle', verticalAlign:'middle'}});
  graphics.push({type:'text', z:100, x:p.statX, y:60, style:{text:p.stats[1], font:'13px ' + FONT, fill:'#000', textVerticalAlign:'middle', verticalAlign:'middle'}});
  graphics.push({type:'text', z:100, x:p.yTitleX, y:182, rotation:Math.PI/2,
    style:{text:p.yTitle, font:'16px ' + FONT, fill:'#000', align:'center', verticalAlign:'middle', textAlign:'center', textVerticalAlign:'middle'}});
  graphics.push({type:'text', z:100, x:p.grid.left + p.grid.width/2, y:368,
    style:{text:xTitle, font:'16px ' + FONT, fill:'#000', align:'center', verticalAlign:'middle', textAlign:'center', textVerticalAlign:'middle'}});
});

const chart = echarts.init(document.getElementById('c'), null, {renderer:'canvas'});
chart.setOption({animation:false, backgroundColor:'#fff', grid:grids, xAxis:xAxes, yAxis:yAxes, series:series, graphic:graphics});
</script></body></html>
